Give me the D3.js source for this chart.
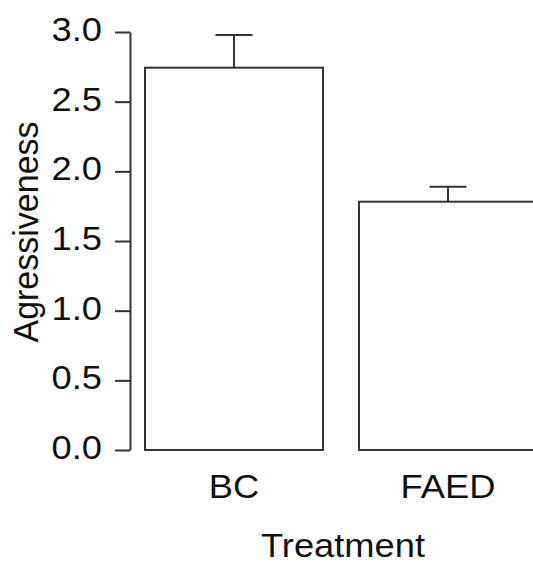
<!DOCTYPE html>
<html>
<head>
<meta charset="utf-8">
<script src="https://cdn.jsdelivr.net/npm/d3@7"></script>
<style>
  html, body { margin: 0; padding: 0; background: #fff; }
  svg { display: block; }
  text { font-family: "Liberation Sans", Arial, sans-serif; fill: #111; }
</style>
</head>
<body>
<svg id="chart" width="533" height="563"></svg>
<script>
const categories = ["BC", "FAED"];
const means = [2.744, 1.782];
const errors = [0.235, 0.108];
const yTicks = [0.0, 0.5, 1.0, 1.5, 2.0, 2.5, 3.0];
const xTitle = "Treatment";
const yTitle = "Agressiveness";

const ink = "#333";
const svg = d3.select("#chart");

const y = d3.scaleLinear().domain([0, 3]).range([450, 32]);
const x = d3.scaleBand().domain(categories).range([130, 552])
  .paddingInner(36 / 214).paddingOuter(15 / 214);

const sx = 1.1;   // horizontal stretch of the reference text
const fs = 33;

// Y axis
const yAxis = svg.append("g").attr("transform", "translate(130,0)")
  .call(d3.axisLeft(y).tickValues(yTicks).tickSize(15).tickSizeOuter(0)
    .tickFormat(d3.format(".1f")));
yAxis.select(".domain").attr("stroke", ink).attr("stroke-width", 2);
yAxis.selectAll(".tick line").attr("stroke", ink).attr("stroke-width", 2);
yAxis.selectAll(".tick text")
  .attr("x", null).attr("dy", null)
  .attr("transform", "translate(-28,8.5) scale(" + sx + ",1)")
  .attr("text-anchor", "end")
  .style("font-size", fs + "px")
  .attr("fill", "#111");

// Bars
svg.append("g").selectAll("rect").data(categories).join("rect")
  .attr("x", d => x(d))
  .attr("y", (d, i) => y(means[i]))
  .attr("width", x.bandwidth())
  .attr("height", (d, i) => y(0) - y(means[i]))
  .attr("fill", "#fff")
  .attr("stroke", ink)
  .attr("stroke-width", 2);

// Error bars (upper only)
const eb = svg.append("g").selectAll("g").data(categories).join("g");
eb.append("line")
  .attr("x1", d => x(d) + x.bandwidth() / 2)
  .attr("x2", d => x(d) + x.bandwidth() / 2)
  .attr("y1", (d, i) => y(means[i]))
  .attr("y2", (d, i) => y(means[i] + errors[i]))
  .attr("stroke", ink).attr("stroke-width", 2);
eb.append("line")
  .attr("x1", d => x(d) + x.bandwidth() / 2 - 18.5)
  .attr("x2", d => x(d) + x.bandwidth() / 2 + 18.5)
  .attr("y1", (d, i) => y(means[i] + errors[i]))
  .attr("y2", (d, i) => y(means[i] + errors[i]))
  .attr("stroke", ink).attr("stroke-width", 2);

// X category labels
svg.append("g").selectAll("text").data(categories).join("text")
  .attr("transform", d => "translate(" + (x(d) + x.bandwidth() / 2) + ",498) scale(" + sx + ",1)")
  .attr("text-anchor", "middle")
  .style("font-size", fs + "px")
  .text(d => d);

// Axis titles
svg.append("text")
  .attr("transform", "translate(343,556.5) scale(" + sx + ",1)")
  .attr("text-anchor", "middle")
  .style("font-size", fs + "px")
  .text(xTitle);

svg.append("text")
  .attr("transform", "translate(38,232) rotate(-90) scale(1,1.05)")
  .attr("text-anchor", "middle")
  .style("font-size", "34px")
  .text(yTitle);
</script>
</body>
</html>
